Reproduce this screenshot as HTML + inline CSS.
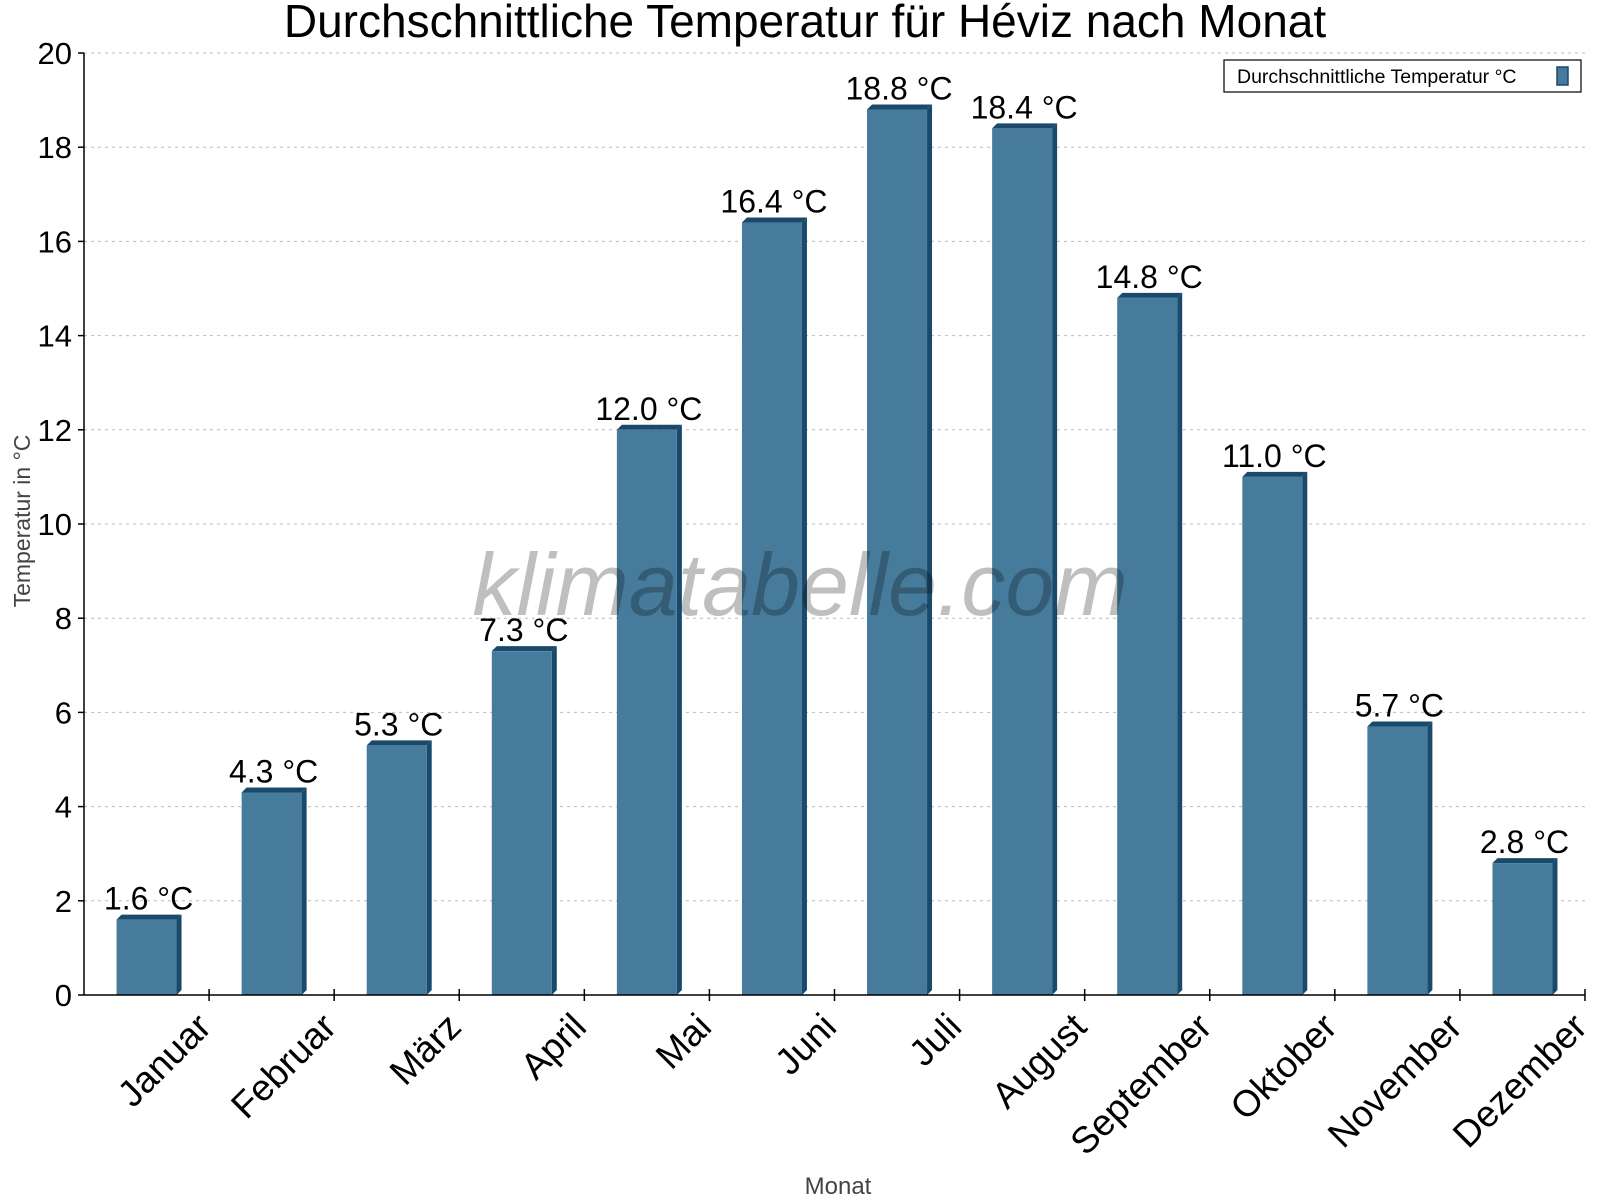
<!DOCTYPE html>
<html><head><meta charset="utf-8"><style>body{margin:0;background:#fff}svg{display:block;font-family:"Liberation Sans",sans-serif}</style></head>
<body>
<svg id="c" width="1600" height="1200">
<text x="805" y="37" font-size="46" text-anchor="middle">Durchschnittliche Temperatur für Héviz nach Monat</text>
<g id="grid"></g>
<g id="bars"></g>
<text x="800" y="615" font-size="88" font-style="italic" fill="#000" fill-opacity="0.25" text-anchor="middle">klimatabelle.com</text>
<g id="axes"></g>
<text transform="translate(30,521) rotate(-90)" font-size="23" fill="#444" text-anchor="middle">Temperatur in °C</text>
<text x="838" y="1194" font-size="24" fill="#444" text-anchor="middle">Monat</text>
<g>
<rect x="1224" y="60" width="357" height="32" fill="#fff" stroke="#000" stroke-width="1.2"/>
<text x="1237" y="83" font-size="19.5">Durchschnittliche Temperatur °C</text>
<rect x="1557" y="67" width="11" height="18" fill="#467b9c" stroke="#1a4a6b" stroke-width="1.5"/>
</g>
</svg>
<script>
const categories=["Januar","Februar","März","April","Mai","Juni","Juli","August","September","Oktober","November","Dezember"];
const values=[1.6,4.3,5.3,7.3,12.0,16.4,18.8,18.4,14.8,11.0,5.7,2.8];
const yTicks=[0,2,4,6,8,10,12,14,16,18,20];
const NS="http://www.w3.org/2000/svg";
const X0=84,X1=1585,Y0=995,Y1=53,YMAX=20;
const bw=(X1-X0)/categories.length;
const y=v=>Y0-(v/YMAX)*(Y0-Y1);
const xc=i=>X0+bw*(i+0.5);
function mk(tag,attrs,parent,text){const e=document.createElementNS(NS,tag);for(const k in attrs)e.setAttribute(k,attrs[k]);if(text!==undefined)e.textContent=text;document.getElementById(parent).appendChild(e);return e;}
yTicks.forEach(t=>{
  const g=mk('line',{x1:X0,x2:X1,y1:y(t),y2:y(t),stroke:'#bbb','stroke-dasharray':'3,4'},'grid');
  
  
  const tk=mk('line',{x1:X0-6,x2:X0,y1:y(t),y2:y(t),stroke:'#000','stroke-width':1.5},'axes');
  
  
  const l=mk('text',{x:X0-12,y:y(t)+11,'font-size':31,'text-anchor':'end'},'axes',String(t));
  
  
});
const ax=mk('line',{x1:X0,x2:X0,y1:Y1,y2:Y0,stroke:'#000','stroke-width':1.5},'axes');


const axx=mk('line',{x1:X0,x2:X1,y1:Y0,y2:Y0,stroke:'#000','stroke-width':1.5},'axes');


categories.forEach((c,i)=>{
  const xr=X0+bw*(i+1);
  const tk=mk('line',{x1:xr,x2:xr,y1:Y0-6,y2:Y0+6,stroke:'#000','stroke-width':1.5},'axes');
  
  
  const l=mk('text',{transform:`translate(${xr+4},${Y0+34}) rotate(-45)`,'font-size':37,'text-anchor':'end'},'axes',c);
  
  
  const v=values[i],left=xc(i)-30,right=left+60,top=y(v),d=5;
  const side=mk('polygon',{points:`${right},${top} ${right+d},${top-d} ${right+d},${Y0-d} ${right},${Y0}`,fill:'#1a4a6b'},'bars');
  
  
  const tp=mk('polygon',{points:`${left},${top} ${left+d},${top-d} ${right+d},${top-d} ${right},${top}`,fill:'#1a4a6b'},'bars');
  
  
  const b=mk('rect',{x:left,y:top,width:60,height:Y0-top,fill:'#467b9c'},'bars');
  
  
  const vl=mk('text',{x:xc(i)+2,y:top-10,'font-size':32,'text-anchor':'middle'},'bars',v.toFixed(1)+' °C');
  
  
});
</script>
</body></html>
